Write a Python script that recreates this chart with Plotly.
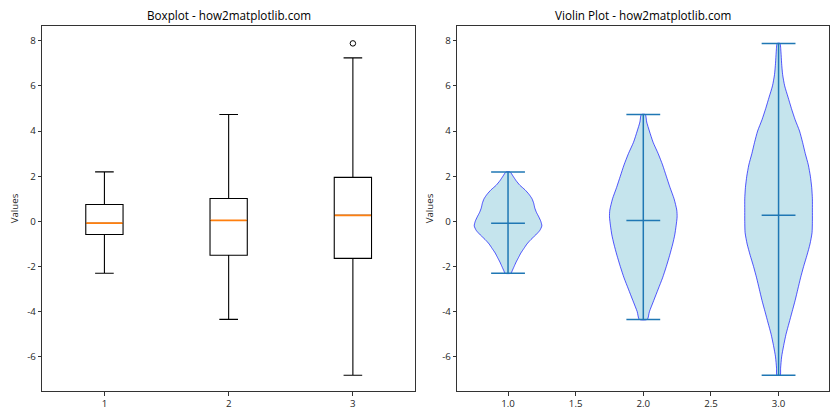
import plotly.graph_objects as go

# ---------------- data ----------------
positions = [1, 2, 3]
box_q1 = [-0.58, -1.50, -1.64]
box_median = [-0.08, 0.04, 0.27]
box_q3 = [0.75, 1.01, 1.95]
box_lower = [-2.30, -4.34, -6.81]
box_upper = [2.19, 4.73, 7.24]
outlier_x = [3]
outlier_y = [7.88]

# violin profiles: value levels and relative density (1 = widest)
v1_y = [2.19, 2.0, 1.8, 1.6, 1.4, 1.2, 1.0, 0.8, 0.6, 0.4, 0.2, 0.0, -0.2, -0.4,
        -0.6, -0.8, -1.0, -1.2, -1.4, -1.6, -1.8, -2.0, -2.2, -2.30]
v1_d = [0.06, 0.15, 0.24, 0.35, 0.50, 0.62, 0.71, 0.76, 0.79, 0.84, 0.91, 0.97, 1.0, 0.94,
        0.82, 0.68, 0.56, 0.47, 0.38, 0.31, 0.24, 0.18, 0.12, 0.09]
v2_y = [4.73, 4.4, 4.0, 3.5, 3.0, 2.5, 2.0, 1.5, 1.0, 0.5, 0.2, -0.2, -0.6, -1.0, -1.5,
        -2.0, -2.5, -3.0, -3.5, -4.0, -4.34]
v2_d = [0.06, 0.10, 0.18, 0.29, 0.44, 0.57, 0.68, 0.79, 0.91, 0.99, 1.0, 0.97, 0.93, 0.87,
        0.78, 0.68, 0.57, 0.44, 0.31, 0.18, 0.12]
v3_y = [7.88, 7.5, 7.0, 6.5, 6.0, 5.5, 5.0, 4.5, 4.0, 3.5, 3.0, 2.5, 2.0, 1.5, 1.0, 0.5,
        0.0, -0.5, -1.0, -1.5, -2.0, -2.5, -3.0, -3.5, -4.0, -4.5, -5.0, -5.5, -6.0, -6.5, -6.81]
v3_d = [0.04, 0.07, 0.09, 0.12, 0.18, 0.28, 0.38, 0.49, 0.62, 0.71, 0.79, 0.88, 0.94, 0.98,
        1.0, 1.0, 1.0, 0.99, 0.93, 0.84, 0.74, 0.65, 0.57, 0.49, 0.40, 0.31, 0.22, 0.15,
        0.09, 0.06, 0.05]
violin_medians = [-0.08, 0.04, 0.27]

y_ticks = [-6, -4, -2, 0, 2, 4, 6, 8]
y_ticktext = ["-6", "-4", "-2", "0", "2", "4", "6", "8"]
x1_ticks = [1, 2, 3]
x1_ticktext = ["1", "2", "3"]
x2_ticks = [1.0, 1.5, 2.0, 2.5, 3.0]
x2_ticktext = ["1.0", "1.5", "2.0", "2.5", "3.0"]

titles = ["Boxplot - how2matplotlib.com", "Violin Plot - how2matplotlib.com"]

# ---------------- style ----------------
FONT = "Open Sans"
BOX_W = 0.3
VIOLIN_HALF = 0.25
LINE_C = "#1f77b4"
TXT_C = "#262626"

fig = go.Figure()

# Boxplots
for i, p in enumerate(positions):
    fig.add_trace(go.Box(
        x=[p], q1=[box_q1[i]], median=[box_median[i]], q3=[box_q3[i]],
        lowerfence=[box_lower[i]], upperfence=[box_upper[i]],
        width=BOX_W, whiskerwidth=0.5,
        line=dict(color="black", width=1.1), fillcolor="rgba(255,255,255,0)",
        xaxis="x", yaxis="y", showlegend=False, hoverinfo="skip"))
    fig.add_trace(go.Scatter(
        x=[p - BOX_W / 2 + 0.004, p + BOX_W / 2 - 0.004], y=[box_median[i], box_median[i]],
        mode="lines", line=dict(color="#ff7f0e", width=1.8),
        xaxis="x", yaxis="y", showlegend=False, hoverinfo="skip"))
fig.add_trace(go.Scatter(
    x=outlier_x, y=outlier_y, mode="markers",
    marker=dict(symbol="circle-open", size=5.5, color="black", line=dict(width=1)),
    xaxis="x", yaxis="y", showlegend=False, hoverinfo="skip"))

# Violins
for p, ys, ds, med in zip(positions, [v1_y, v2_y, v3_y], [v1_d, v2_d, v3_d], violin_medians):
    xr = [p + d * VIOLIN_HALF for d in ds]
    xl = [p - d * VIOLIN_HALF for d in ds]
    xs = xr + xl[::-1] + [xr[0]]
    yy = ys + ys[::-1] + [ys[0]]
    fig.add_trace(go.Scatter(
        x=xs, y=yy, mode="lines", fill="toself",
        fillcolor="rgba(173,216,230,0.7)",
        line=dict(color="rgba(0,0,255,0.65)", width=1, shape="spline", smoothing=0.6),
        xaxis="x2", yaxis="y2", showlegend=False, hoverinfo="skip"))
    ymax, ymin = max(ys), min(ys)
    for yv in (ymax, ymin, med):
        fig.add_trace(go.Scatter(
            x=[p - VIOLIN_HALF / 2, p + VIOLIN_HALF / 2], y=[yv, yv], mode="lines",
            line=dict(color=LINE_C, width=1.5),
            xaxis="x2", yaxis="y2", showlegend=False, hoverinfo="skip"))
    fig.add_trace(go.Scatter(
        x=[p, p], y=[ymin, ymax], mode="lines", line=dict(color=LINE_C, width=1.5),
        xaxis="x2", yaxis="y2", showlegend=False, hoverinfo="skip"))

W, H = 840, 420
ydom = [1 - 391 / H, 1 - 26 / H]
axis_common = dict(showline=True, linecolor="#333333", linewidth=1, mirror=True,
                   ticks="outside", ticklen=3.5, tickcolor="#333333", showgrid=False,
                   zeroline=False, tickfont=dict(family=FONT, size=9.7, color=TXT_C))
yrange = [-7.51, 8.65]

fig.update_layout(
    width=W, height=H, margin=dict(l=0, r=0, t=0, b=0),
    paper_bgcolor="white", plot_bgcolor="white",
    xaxis=dict(domain=[42.3 / W, 415 / W], range=[0.5, 3.5], tickvals=x1_ticks,
               ticktext=x1_ticktext, anchor="y", **axis_common),
    yaxis=dict(domain=ydom, range=yrange, tickvals=y_ticks, ticktext=y_ticktext,
               anchor="x", title=dict(text="Values", font=dict(family=FONT, size=9.7, color=TXT_C),
                                      standoff=6), **axis_common),
    xaxis2=dict(domain=[457.3 / W, 829.3 / W], range=[0.625, 3.375], tickvals=x2_ticks,
                ticktext=x2_ticktext, anchor="y2", **axis_common),
    yaxis2=dict(domain=ydom, range=yrange, tickvals=y_ticks, ticktext=y_ticktext,
                anchor="x2", title=dict(text="Values", font=dict(family=FONT, size=9.7, color=TXT_C),
                                        standoff=6), **axis_common),
    annotations=[
        dict(text=titles[0], x=(42.3 + 415) / 2 / W, y=1 - 15 / H, xref="paper", yref="paper",
             xanchor="center", yanchor="middle", showarrow=False,
             font=dict(family=FONT, size=11.7, color="black")),
        dict(text=titles[1], x=(457.3 + 829.3) / 2 / W, y=1 - 15 / H, xref="paper", yref="paper",
             xanchor="center", yanchor="middle", showarrow=False,
             font=dict(family=FONT, size=11.7, color="black")),
    ],
)

fig.write_html("out.html")
